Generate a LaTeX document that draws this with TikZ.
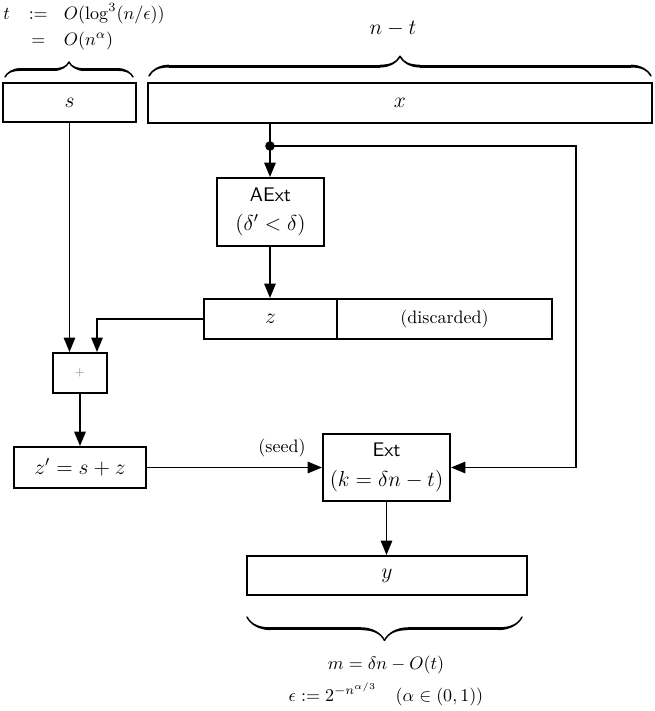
\documentclass[tikz,border=0pt]{standalone}
\usetikzlibrary{arrows.meta,decorations.pathreplacing,calligraphy}
\newcommand{\pxu}{0.5556pt}
\begin{document}
\begin{tikzpicture}[x=0.5556pt,y=-0.5556pt,
  box/.style={draw,line width=1.05pt,inner sep=0pt,anchor=center},
  conn/.style={line width=1.05pt},
  arr/.style={conn,-{Triangle[length=8pt,width=6.3pt]}},
  brc/.style={decorate,decoration={calligraphic brace,amplitude=#1},line width=1.6pt},
  bigm/.style={font=\large},
]
\useasboundingbox (0,0) rectangle (654,711);

% top-left definition
\node[anchor=west,inner sep=0pt] (tdef) at (3,27.5)
  {\renewcommand{\arraystretch}{1.16}%
   $\begin{array}{@{}r@{\hspace{10.5pt}}c@{\hspace{9pt}}l@{}}
   t & := & O(\log^3(n/\epsilon))\\
     & =  & O(n^{\alpha})
   \end{array}$};
\node[font=\fontsize{11.5}{14}\selectfont] (nt) at (393,29) {$n-t$};

% braces
\draw[brc=8.3pt] (5,77) -- (133,77);
\draw[brc=11pt] (149,76) -- (651,76);
\draw[brc=13pt] (522,617) -- (247,617);

% boxes
\node[box,bigm,minimum width=133*\pxu,minimum height=39*\pxu] (s) at (69.5,102.5) {$s$};
\node[box,bigm,minimum width=504*\pxu,minimum height=40*\pxu] (x) at (400,103) {$x$};
\node[box,minimum width=107*\pxu,minimum height=68*\pxu,align=center] (aext) at (270.5,212) {\fontsize{10.95}{13}\selectfont\textsf{AExt}\\[4pt]\large$(\delta'<\delta)$};
\node[box,bigm,minimum width=133*\pxu,minimum height=40*\pxu] (z) at (270.5,319) {$z$};
\node[box,minimum width=215*\pxu,minimum height=40*\pxu] (disc) at (444.5,319) {(discarded)};
\node[box,minimum width=54*\pxu,minimum height=40*\pxu,text=gray,font=\fontsize{6}{7}\selectfont] (plus) at (80,373) {$+$};
\node[box,bigm,minimum width=132*\pxu,minimum height=41*\pxu] (zp) at (80,467.5) {$z'=s+z$};
\node[box,minimum width=127*\pxu,minimum height=67*\pxu,align=center] (ext) at (386.5,467.5) {\fontsize{10.95}{13}\selectfont\textsf{Ext}\\[4.5pt]\large$(k=\delta n-t)$};
\node[box,bigm,minimum width=280*\pxu,minimum height=39*\pxu] (y) at (387,575.5) {$y$};
\node (seed) at (282,448) {(seed)};

% connectors
\coordinate (dot) at (270,146);
\coordinate (corner) at (576,146);
\draw[conn] (x.south -| dot) -- (dot);
\draw[arr] (dot) -- (dot |- aext.north);
\draw[arr] (dot) -- (corner) -- (corner |- ext.east) -- (ext.east);
\fill (dot) circle (4.8);
\draw[arr] (aext.south -| dot) -- (z.north -| dot);
\draw[arr] (s.south) -- (s.south |- plus.north);
\draw[arr] (z.west) -| ([xshift=17*\pxu]plus.north);
\draw[arr] (plus.south) -- (zp.north);
\draw[arr] (zp.east) -- (ext.west);
\draw[arr] (ext.south) -- (ext.south |- y.north);

% bottom labels
\node[font=\fontsize{10.4}{12.5}\selectfont] (m) at (386,665) {$m=\delta n-O(t)$};
\node[font=\fontsize{10.4}{12.5}\selectfont] (eps) at (386,694) {$\epsilon := 2^{-n^{\alpha/3}}\quad(\alpha\in(0,1))$};
\end{tikzpicture}
\end{document}
